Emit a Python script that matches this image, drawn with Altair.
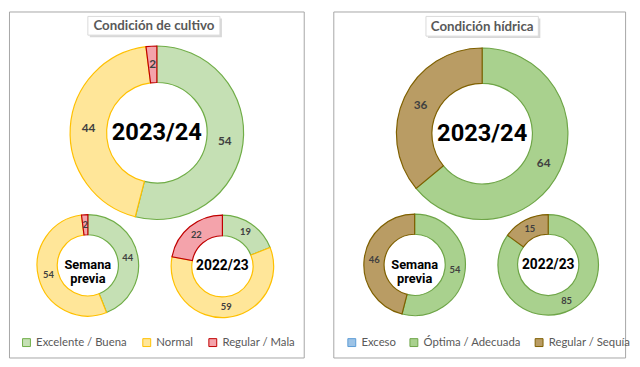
import altair as alt
import pandas as pd

# ---- data ----
cultivo_cats = ["Excelente / Buena", "Normal", "Regular / Mala"]
cultivo_2324 = [54, 44, 2]
cultivo_prev = [44, 54, 2]
cultivo_2223 = [19, 59, 22]

hidrica_cats = ["Exceso", "Óptima / Adecuada", "Regular / Sequía"]
hidrica_2324 = [0, 64, 36]
hidrica_prev = [0, 54, 46]
hidrica_2223 = [0, 85, 15]

center_labels = ["2023/24", "Semana\nprevia", "2022/23"]
panel_titles = ["Condición  de cultivo", "Condición  hídrica"]

# ---- styles ----
cultivo_fill = ["#C5E0B4", "#FFE699", "#F4A3AB"]
cultivo_stroke = ["#70AD47", "#FFC000", "#C00000"]
hidrica_fill = ["#9DC3E6", "#A9D18E", "#B99C64"]
hidrica_stroke = ["#5B9BD5", "#6EA547", "#7F6000"]

FONT = "Lato"
NUM_COLOR = "#404040"


def make_legend(x, cp):
    return alt.Legend(
        title=None, orient="none", legendX=x, legendY=330, direction="horizontal",
        symbolType="square", symbolSize=64, symbolStrokeWidth=1,
        labelFont=FONT, labelFontSize=11.5, labelColor="#595959",
        columnPadding=cp, labelOffset=4, padding=0,
    )


def donut(cats, vals, label, cx, cy, r_out, r_in, fill_scale, stroke_scale, legend,
          num_size, center_size, center_weight):
    df = pd.DataFrame({"cat": cats, "value": vals, "order": list(range(len(cats)))})
    base = alt.Chart(df)
    arcs = base.mark_arc(radius=r_out, radius2=r_in, strokeWidth=1.2).encode(
        theta=alt.Theta("value:Q", stack=True),
        order=alt.Order("order:Q"),
        fill=alt.Fill("cat:N", scale=fill_scale, legend=legend),
        stroke=alt.Stroke("cat:N", scale=stroke_scale, legend=legend),
        x=alt.value(cx), y=alt.value(cy),
    )
    nums = base.mark_text(
        radius=(r_out + r_in) / 2, font=FONT, fontWeight="bold",
        fontSize=num_size, color=NUM_COLOR,
    ).encode(
        theta=alt.Theta("value:Q", stack=True),
        order=alt.Order("order:Q"),
        text=alt.Text("value:Q"),
        x=alt.value(cx), y=alt.value(cy),
    ).transform_filter("datum.value > 0")
    cdf = pd.DataFrame({"label": [label]})
    center = alt.Chart(cdf).mark_text(
        font="Roboto", fontSize=center_size, fontWeight=center_weight,
        color="black", lineBreak="\n", lineHeight=center_size + 1, baseline="middle",
    ).encode(text="label:N", x=alt.value(cx), y=alt.value(cy))
    return [arcs, nums, center]


def title_box(text, x0, x1, y0, y1):
    tdf = pd.DataFrame({"t": [text]})
    b = alt.Chart(tdf)
    shadow = b.mark_rect(fill="#C8C8C8", opacity=0.7).encode(
        x=alt.value(x0 + 2), x2=alt.value(x1 + 2), y=alt.value(y0 + 2), y2=alt.value(y1 + 2))
    box = b.mark_rect(fill="white", stroke="#D9D9D9", strokeWidth=1).encode(
        x=alt.value(x0), x2=alt.value(x1), y=alt.value(y0), y2=alt.value(y1))
    txt = b.mark_text(font=FONT, fontWeight="bold", fontSize=13.5, color="#595959",
                      baseline="middle").encode(
        text="t:N", x=alt.value((x0 + x1) / 2), y=alt.value((y0 + y1) / 2 + 0.5))
    return [shadow, box, txt]


# ---- left panel ----
lf = alt.Scale(domain=cultivo_cats, range=cultivo_fill)
ls = alt.Scale(domain=cultivo_cats, range=cultivo_stroke)
lleg = make_legend(12, 13)
left_layers = title_box(panel_titles[0], 80, 214, 5, 24)
left_layers += donut(cultivo_cats, cultivo_2324, center_labels[0], 150, 123, 88, 51, lf, ls, lleg,
                     12, 24, "bold")
left_layers += donut(cultivo_cats, cultivo_prev, center_labels[1], 80, 257.5, 51.5, 31, lf, ls, lleg,
                     9.5, 13, "bold")
left_layers += donut(cultivo_cats, cultivo_2223, center_labels[2], 216.5, 258.5, 52, 31, lf, ls, lleg,
                     9.5, 14, "bold")
left = alt.layer(*left_layers).properties(width=299, height=351)

# ---- right panel ----
rf = alt.Scale(domain=hidrica_cats, range=hidrica_fill)
rs = alt.Scale(domain=hidrica_cats, range=hidrica_stroke)
rleg = make_legend(13, 11)
right_layers = title_box(panel_titles[1], 94, 208, 5, 25)
right_layers += donut(hidrica_cats, hidrica_2324, center_labels[0], 151, 124, 87, 51, rf, rs, rleg,
                      12, 24, "bold")
right_layers += donut(hidrica_cats, hidrica_prev, center_labels[1], 82.5, 257, 51.5, 31, rf, rs, rleg,
                      9.5, 13, "bold")
right_layers += donut(hidrica_cats, hidrica_2223, center_labels[2], 218, 257, 51, 31, rf, rs, rleg,
                      9.5, 14, "bold")
right = alt.layer(*right_layers).properties(width=296, height=351)

chart = alt.hconcat(left, right, spacing=28).resolve_scale(
    fill="independent", stroke="independent", theta="independent"
).properties(padding=0, background="white").configure_view(stroke="#A6A6A6", strokeWidth=1)

chart.save("out.html", embed_options={"renderer": "svg", "actions": False})
